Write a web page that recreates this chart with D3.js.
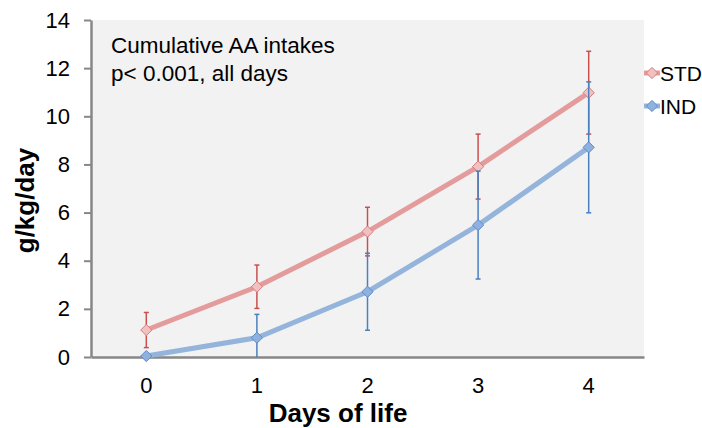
<!DOCTYPE html>
<html>
<head>
<meta charset="utf-8">
<script src="https://cdn.jsdelivr.net/npm/d3@7"></script>
<style>
  body { margin: 0; background: #fff; }
  svg text { font-family: "Liberation Sans", Arial, sans-serif; fill: #000; }
</style>
</head>
<body>
<svg id="chart" width="702" height="428"></svg>
<script>
"use strict";

const DAYS = [0, 1, 2, 3, 4];
const STD_MEAN = [1.12, 2.92, 5.21, 7.91, 10.98];
const STD_ERR = [0.73, 0.90, 1.01, 1.35, 1.72];
const IND_MEAN = [0.04, 0.80, 2.71, 5.48, 8.71];
const IND_ERR = [0, 0.97, 1.60, 2.24, 2.72];
const Y_TICKS = [0, 2, 4, 6, 8, 10, 12, 14];
const SERIES_NAMES = ["STD", "IND"];

const plot = { left: 91, right: 644, top: 20, bottom: 357 };
const styles = {
    STD: { line: "#e39c9b", fill: "#f2c0c0", stroke: "#d47d7c", err: "#c9504d" },
    IND: { line: "#94b4dc", fill: "#8fb1df", stroke: "#5d8cc8", err: "#4a7fc0" }
};

const svg = d3.select("#chart");

const xScale = d3.scaleBand()
    .domain(DAYS)
    .range([plot.left, plot.right]);
const xc = d => xScale(d) + xScale.bandwidth() / 2;
const yScale = d3.scaleLinear()
    .domain([0, 14])
    .range([plot.bottom, plot.top]);

// plot background
svg.append("rect")
    .attr("x", plot.left).attr("y", plot.top)
    .attr("width", plot.right - plot.left)
    .attr("height", plot.bottom - plot.top)
    .attr("fill", "#f2f2f2");

// y axis
const yAxis = svg.append("g")
    .attr("transform", `translate(${plot.left}, 0)`)
    .call(d3.axisLeft(yScale).tickValues(Y_TICKS).tickSize(7).tickPadding(14).tickSizeOuter(0));
yAxis.select(".domain").attr("stroke", "#878787").attr("stroke-width", 2.5);
yAxis.selectAll(".tick line").attr("stroke", "#878787").attr("stroke-width", 2);
yAxis.selectAll(".tick text")
    .style("font-size", "22px")
    .attr("font-family", "Liberation Sans, Arial, sans-serif");

// x axis
const xAxis = svg.append("g")
    .attr("transform", `translate(0, ${plot.bottom})`)
    .call(d3.axisBottom(xScale).tickSize(0).tickPadding(20));
xAxis.select(".domain").attr("stroke", "#878787").attr("stroke-width", 2.5);
xAxis.selectAll(".tick text")
    .style("font-size", "22px")
    .attr("font-family", "Liberation Sans, Arial, sans-serif");

// axis titles
svg.append("text")
    .attr("transform", `translate(34, ${(plot.top + plot.bottom) / 2 + 12}) rotate(-90)`)
    .attr("text-anchor", "middle")
    .style("font-size", "26px").style("font-weight", "bold")
    .text("g/kg/day");
svg.append("text")
    .attr("x", 338).attr("y", 422)
    .attr("text-anchor", "middle")
    .style("font-size", "26px").style("font-weight", "bold")
    .text("Days of life");

// annotation
svg.append("text").attr("x", 111).attr("y", 53)
    .style("font-size", "22.5px").text("Cumulative AA intakes");
svg.append("text").attr("x", 111).attr("y", 81)
    .style("font-size", "22.5px").text("p< 0.001, all days");

const series = [
    { name: "STD", mean: STD_MEAN, err: STD_ERR },
    { name: "IND", mean: IND_MEAN, err: IND_ERR }
];

const diamond = d3.symbol().type(d3.symbolDiamond2).size(80);

series.forEach(s => {
    const st = styles[s.name];
    const pts = DAYS.map((d, i) => ({ day: d, v: s.mean[i], e: s.err[i] }));
    const g = svg.append("g");

    // error bars
    pts.filter(p => p.e > 0).forEach(p => {
        const lo = Math.max(0, p.v - p.e), hi = p.v + p.e;
        g.append("line")
            .attr("x1", xc(p.day)).attr("x2", xc(p.day))
            .attr("y1", yScale(lo)).attr("y2", yScale(hi))
            .attr("stroke", st.err).attr("stroke-width", 1.5);
        [hi, p.v - p.e].filter(v => v >= 0).forEach(v => {
            g.append("line")
                .attr("x1", xc(p.day) - 2.5).attr("x2", xc(p.day) + 2.5)
                .attr("y1", yScale(v)).attr("y2", yScale(v))
                .attr("stroke", st.err).attr("stroke-width", 1.5);
        });
    });

    // line
    g.append("path")
        .datum(pts)
        .attr("fill", "none")
        .attr("stroke", st.line)
        .attr("stroke-width", 5)
        .attr("d", d3.line().x(p => xc(p.day)).y(p => yScale(p.v)));

    // markers
    g.selectAll("path.mk")
        .data(pts)
        .join("path")
        .attr("class", "mk")
        .attr("d", diamond)
        .attr("transform", p => `translate(${xc(p.day)}, ${yScale(p.v)})`)
        .attr("fill", st.fill)
        .attr("stroke", st.stroke)
        .attr("stroke-width", 1);
});

// legend
SERIES_NAMES.forEach((name, i) => {
    const st = styles[name];
    const cy = 73 + i * 33;
    const lg = svg.append("g");
    lg.append("line")
        .attr("x1", 644).attr("x2", 660)
        .attr("y1", cy).attr("y2", cy)
        .attr("stroke", st.line).attr("stroke-width", 5);
    lg.append("path")
        .attr("d", diamond)
        .attr("transform", `translate(652, ${cy})`)
        .attr("fill", st.fill).attr("stroke", st.stroke);
    lg.append("text")
        .attr("x", 660).attr("y", cy + 8)
        .style("font-size", "21px")
        .text(name);
});
</script>
</body>
</html>
